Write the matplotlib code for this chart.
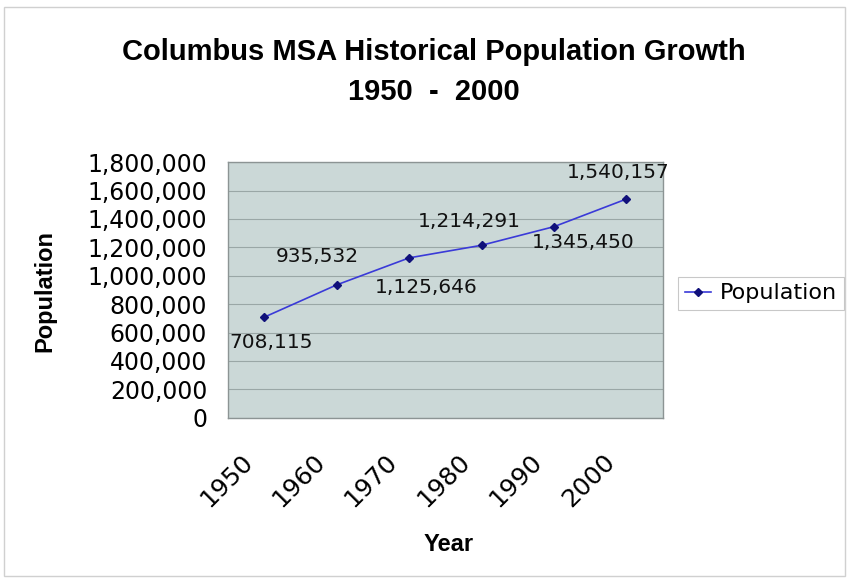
import matplotlib.pyplot as plt
import matplotlib.transforms as mtransforms
from matplotlib.patches import Rectangle
from matplotlib.ticker import FuncFormatter

years = ['1950', '1960', '1970', '1980', '1990', '2000']
population = [708115, 935532, 1125646, 1214291, 1345450, 1540157]
# offsets (pixels) for the value labels
label_dx = [7, -19, 17, -12, 29, -8]
label_dy = [-25, 28, -30, 24, -16, 27]

fig = plt.figure(figsize=(8.54, 5.81), dpi=100)
ax = fig.add_axes([0.267, 0.281, 0.509, 0.44])
ax.set_facecolor('#cbd8d7')

x = list(range(len(years)))
ax.plot(x, population, color='#3a3ad8', linewidth=1.2, marker='D', markersize=4,
        markerfacecolor='#10107a', markeredgecolor='#10107a', label='Population', zorder=3)

for i, v in enumerate(population):
    ax.annotate(f'{v:,}', (x[i], v), xytext=(label_dx[i], label_dy[i]), textcoords='offset pixels',
                ha='center', va='center', fontsize=14.5, family='DejaVu Sans', color='#111111')

ax.set_xlim(-0.5, len(years) - 0.5)
ax.set_ylim(0, 1800000)
ax.set_yticks(range(0, 1800001, 200000))
ax.yaxis.set_major_formatter(FuncFormatter(lambda v, p: f'{int(v):,}'))
ax.set_xticks(x)
ax.set_xticklabels([])

# rotated year labels, placed under each category
trans = ax.get_xaxis_transform() + mtransforms.ScaledTranslation(-0.24, -0.32, fig.dpi_scale_trans)
for i, yr in enumerate(years):
    ax.text(x[i], 0, yr, transform=trans, rotation=45, rotation_mode='anchor',
            ha='right', va='top', fontsize=18, family='DejaVu Sans')

ax.grid(axis='y', color='#9aa7a6', linewidth=0.8)
ax.set_axisbelow(True)
ax.tick_params(axis='y', length=0, pad=15, labelsize=17)
ax.tick_params(axis='x', length=0)
for s in ax.spines.values():
    s.set_color('#8c9494')
    s.set_linewidth(1.0)

fig.text(0.053, 0.5, 'Population', rotation=90, ha='center', va='center',
         fontsize=17, fontweight='bold', family='Liberation Sans')
fig.text(0.525, 0.062, 'Year', ha='center', va='center',
         fontsize=17, fontweight='bold', family='Liberation Sans')

fig.text(0.508, 0.91, 'Columbus MSA Historical Population Growth', ha='center', va='center',
         fontsize=21, fontweight='bold', family='Liberation Sans')
fig.text(0.508, 0.842, '1950  -  2000', ha='center', va='center',
         fontsize=21, fontweight='bold', family='Liberation Sans')

leg = fig.legend(loc='center left', bbox_to_anchor=(0.794, 0.495), borderaxespad=0, fontsize=16,
                 frameon=True, fancybox=False, handlelength=1.2, borderpad=0.3, handletextpad=0.4)
leg.get_frame().set_edgecolor('#bbbbbb')
leg.get_frame().set_linewidth(0.8)

fig.patches.append(Rectangle((0.005, 0.008), 0.985, 0.98, transform=fig.transFigure,
                             fill=False, edgecolor='#d0d0d0', linewidth=1.0))

fig.savefig('out.png', dpi=100)
